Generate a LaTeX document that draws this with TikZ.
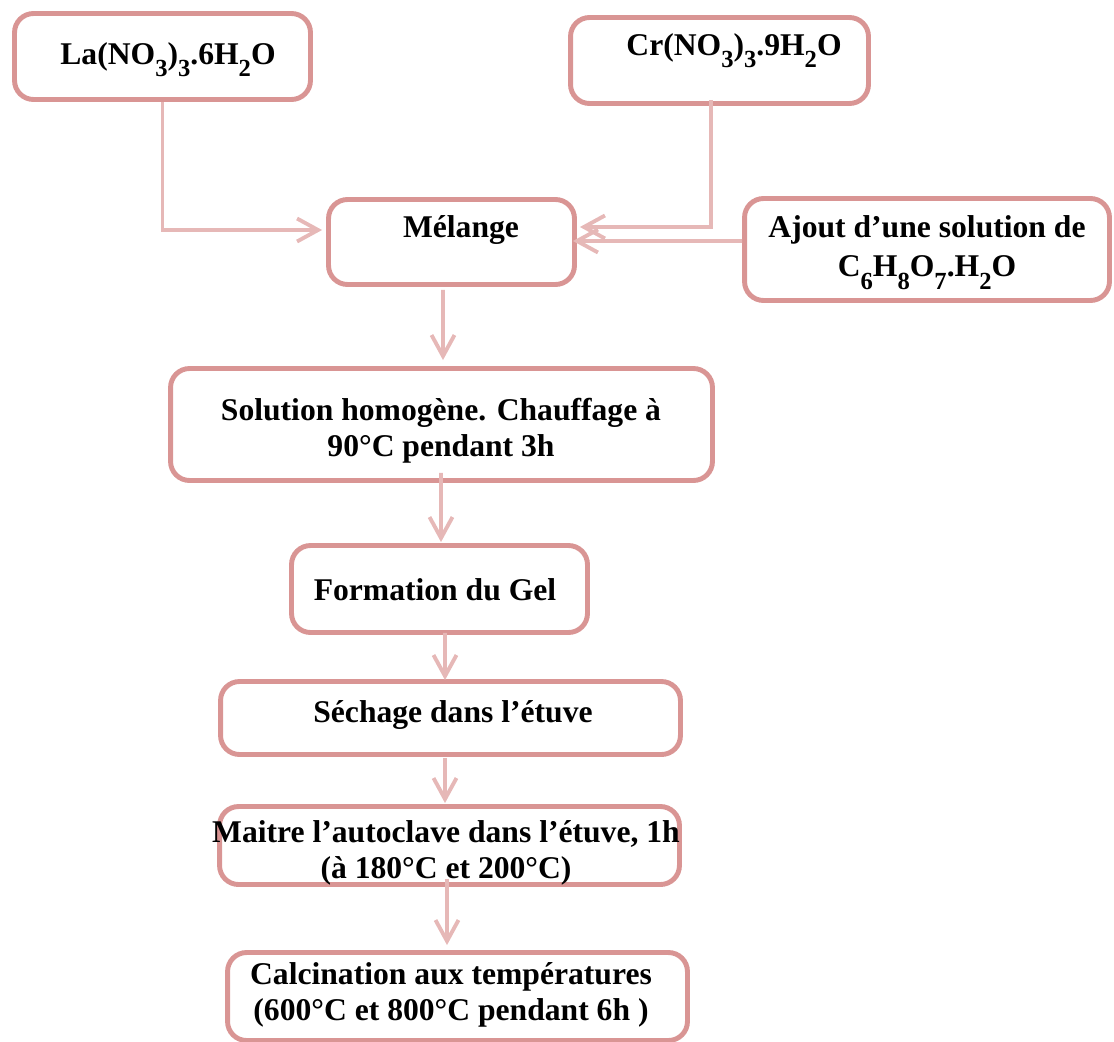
\documentclass[tikz,border=0pt]{standalone}
\usepackage{fontspec}
\setmainfont{Liberation Serif}
\usepackage{tikz}
\usetikzlibrary{arrows.meta}
\definecolor{boxpink}{RGB}{217,149,148}
\definecolor{arrowpink}{RGB}{230,184,183}
\newcommand{\chsub}[1]{\raisebox{-7pt}{\fontsize{14}{14}\selectfont #1}}
\newcommand{\twolines}[2]{\begin{tabular}[t]{@{}c@{}}#1\\#2\end{tabular}}

\begin{document}
\begin{tikzpicture}[x=0.02cm,y=-0.02cm,
  stepbox/.style={draw=boxpink,line width=2.8pt,rounded corners=0.38cm,inner sep=0pt},
  steptext/.style={font=\bfseries\fontsize{18}{20.5}\selectfont,inner sep=0pt,anchor=base},
  flow/.style={draw=arrowpink,line width=2.2pt,-{Straight Barb[length=0.42cm,width=0.46cm]}}]
  \useasboundingbox (0,0) rectangle (1114,1041);

  %starting salts and citric acid
  \node[stepbox,minimum width=5.92cm,minimum height=1.72cm] (la) at (162.5,56.5) {};
  \node[stepbox,minimum width=5.96cm,minimum height=1.72cm] (cr) at (719.5,60.5) {};
  \node[stepbox,minimum width=7.30cm,minimum height=2.04cm] (ajout) at (927,249.5) {};
  \node[steptext] (latxt) at (168,64) {La(NO\chsub{3})\chsub{3}.6H\chsub{2}O};
  \node[steptext] (crtxt) at (734,55) {Cr(NO\chsub{3})\chsub{3}.9H\chsub{2}O};
  \node[steptext,font=\bfseries\fontsize{18}{22.7}\selectfont] (ajouttxt) at (927,237)
    {\twolines{Ajout d’une solution de}{C\chsub{6}H\chsub{8}O\chsub{7}.H\chsub{2}O}};

  %process steps
  \node[stepbox,minimum width=4.92cm,minimum height=1.70cm] (melange) at (451.5,242) {};
  \node[stepbox,minimum width=10.84cm,minimum height=2.24cm] (solution) at (441.5,424.5) {};
  \node[stepbox,minimum width=5.92cm,minimum height=1.74cm] (formation) at (439.5,589) {};
  \node[stepbox,minimum width=9.20cm,minimum height=1.46cm] (sechage) at (450.5,718) {};
  \node[stepbox,minimum width=9.20cm,minimum height=1.56cm] (maitre) at (449.5,845.5) {};
  \node[stepbox,minimum width=9.20cm,minimum height=1.76cm] (calc) at (457.5,996.5) {};
  \node[steptext] (meltxt) at (461,237) {Mélange};
  \node[steptext] (soltxt) at (441,420)
    {\twolines{Solution homogène. Chauffage à}{90°C pendant 3h}};
  \node[steptext] (formtxt) at (435,600) {Formation du Gel};
  \node[steptext] (sechtxt) at (453,722) {Séchage dans l’étuve};
  \node[steptext] (maitretxt) at (446,842)
    {\twolines{Maitre l’autoclave dans l’étuve, 1h}{(à 180°C et 200°C)}};
  \node[steptext] (calctxt) at (451,984)
    {\twolines{Calcination aux températures}{(600°C et 800°C pendant 6h )}};

  %arrows
  \draw[flow] (la.south) |- ([shift={(-4,-12)}]melange.west);
  \draw[flow] ([shift={(-8.5,-6)}]cr.south) |- ([shift={(3,-15)}]melange.east);
  \draw[flow] ([yshift=0.17cm]ajout.west) -- ([shift={(-4,-1)}]melange.east);
  \draw[flow] ([shift={(-8.5,3)}]melange.south) -- ([shift={(1.5,-6)}]solution.north);
  \draw[flow] ([shift={(-0.5,-10)}]solution.south) -- ([shift={(1.5,-1)}]formation.north);
  \draw[flow] ([shift={(5.5,-2)}]formation.south) -- ([shift={(-5.5,1)}]sechage.north);
  \draw[flow] ([shift={(-5.5,1)}]sechage.south) -- ([shift={(-4.5,-1)}]maitre.north);
  \draw[flow] ([shift={(-2.5,-8)}]maitre.south) -- ([shift={(-10.5,-5)}]calc.north);
\end{tikzpicture}
\end{document}
